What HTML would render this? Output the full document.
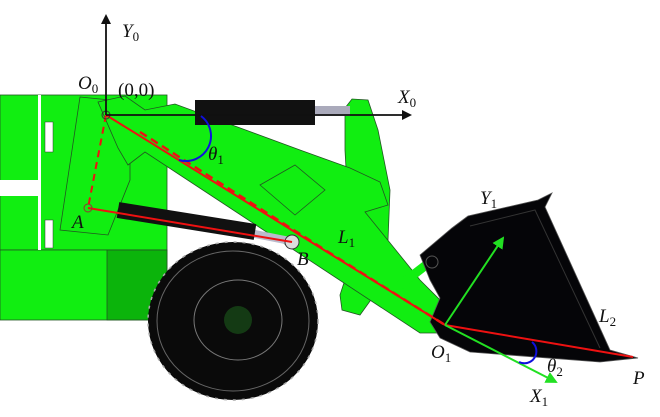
<!DOCTYPE html>
<html><head><style>
html,body{margin:0;padding:0;background:#fff;width:660px;height:417px;overflow:hidden}
svg text{font-family:"Liberation Serif","DejaVu Serif",serif;font-style:italic;font-size:19px;fill:#111}
svg text.n{font-style:normal}
svg tspan.s{font-size:13px;font-style:normal}
</style></head><body>
<svg width="660" height="417" viewBox="0 0 660 417" xmlns="http://www.w3.org/2000/svg">
<defs>
<marker id="ak" markerWidth="10" markerHeight="10" refX="8" refY="5" orient="auto" markerUnits="userSpaceOnUse"><path d="M0,0 L10,5 L0,10z" fill="#111"/></marker>
<marker id="ag" markerWidth="12" markerHeight="12" refX="10" refY="6" orient="auto" markerUnits="userSpaceOnUse"><path d="M0,0 L12,6 L0,12z" fill="#22e022"/></marker>
</defs>
<rect x="0" y="95" width="167" height="155" fill="#11ee11" stroke="#225522" stroke-width="0.8"/>
<rect x="0" y="250" width="167" height="70" fill="#11ee11" stroke="#225522" stroke-width="0.8"/>
<rect x="107" y="250" width="60" height="70" fill="#0bb40b" stroke="#225522" stroke-width="0.8"/>
<rect x="0" y="180" width="38" height="16" fill="#fff"/>
<rect x="38" y="95" width="3" height="155" fill="#fff"/>
<rect x="45" y="122" width="8" height="30" fill="#fff" stroke="#333" stroke-width="0.5"/>
<rect x="45" y="220" width="8" height="28" fill="#fff" stroke="#333" stroke-width="0.5"/>
<polygon points="80,97 110,100 130,125 130,180 108,235 60,230" fill="#11ee11" stroke="#225522" stroke-width="0.8"/>
<polygon points="345,108 352,99 368,100 378,130 390,190 388,240 378,290 360,315 342,310 340,295 353,255 348,205 345,150" fill="#11ee11" stroke="#225522" stroke-width="0.8"/>
<polygon points="98,102 125,96 145,110 175,104 300,150 350,168 380,182 388,205 365,212 420,280 440,300 450,333 420,333 145,152 128,165 118,148" fill="#11ee11" stroke="#225522" stroke-width="0.8"/>
<polygon points="260,185 295,165 325,190 295,215" fill="none" stroke="#225522" stroke-width="0.8"/>
<line x1="400" y1="285" x2="430" y2="262" stroke="#11ee11" stroke-width="9"/>
<rect x="310" y="106" width="40" height="10" fill="#aab"/>
<rect x="195" y="100" width="120" height="25" fill="#111"/>
<line x1="250" y1="233" x2="290" y2="241" stroke="#bbc" stroke-width="8"/>
<line x1="118" y1="210" x2="255" y2="232" stroke="#111" stroke-width="16"/>
<circle cx="292" cy="242" r="7" fill="#ddd" stroke="#333"/>
<ellipse cx="233" cy="321" rx="85" ry="79" fill="#0a0a0a" stroke="#aaa" stroke-width="1.5" stroke-dasharray="3 6"/>
<ellipse cx="233" cy="321" rx="76" ry="70" fill="none" stroke="#666" stroke-width="1"/>
<ellipse cx="238" cy="320" rx="44" ry="40" fill="none" stroke="#777" stroke-width="1"/>
<ellipse cx="238" cy="320" rx="14" ry="14" fill="#143a14"/>
<polygon points="420,255 452,228 468,216 538,200 552,193 545,207 610,350 638,358 600,362 470,352 440,338 430,322 440,298 430,280" fill="#050508" stroke="#555" stroke-width="0.8"/>
<path d="M470,226 L535,210 L600,348" fill="none" stroke="#333" stroke-width="1"/>
<circle cx="432" cy="262" r="6" fill="none" stroke="#555"/>
<line x1="106" y1="115" x2="445" y2="325" stroke="#ee1111" stroke-width="2"/>
<polyline points="106,115 88,208" fill="none" stroke="#ee1111" stroke-width="2" stroke-dasharray="7 5"/>
<polyline points="140,132 325,250 445,325" fill="none" stroke="#ee1111" stroke-width="2.5" stroke-dasharray="8 5"/>
<line x1="88" y1="208" x2="292" y2="242" stroke="#ee1111" stroke-width="2"/>
<line x1="445" y1="325" x2="633" y2="357" stroke="#ee1111" stroke-width="2"/>
<circle cx="88" cy="208" r="4" fill="none" stroke="#933"/>
<circle cx="106" cy="115" r="4" fill="none" stroke="#333"/>
<line x1="106" y1="115" x2="106" y2="16" stroke="#111" stroke-width="1.8" marker-end="url(#ak)"/>
<line x1="106" y1="115" x2="410" y2="115" stroke="#111" stroke-width="1.8" marker-end="url(#ak)"/>
<line x1="445" y1="325" x2="556" y2="382" stroke="#22e022" stroke-width="2" marker-end="url(#ag)"/>
<line x1="445" y1="325" x2="503" y2="238" stroke="#22e022" stroke-width="2" marker-end="url(#ag)"/>
<path d="M201,116 A25,25 0 0 1 179,160" fill="none" stroke="#1010dd" stroke-width="2"/>
<path d="M532,342 A12,12 0 0 1 519,362" fill="none" stroke="#1010dd" stroke-width="2"/>
<text x="122" y="37">Y<tspan class="s" dy="4">0</tspan></text>
<text x="78" y="89">O<tspan class="s" dy="4">0</tspan></text>
<text x="118" y="96" class="n">(0,0)</text>
<text x="398" y="103">X<tspan class="s" dy="4">0</tspan></text>
<text x="208" y="160">θ<tspan class="s" dy="4">1</tspan></text>
<text x="72" y="228">A</text>
<text x="297" y="265">B</text>
<text x="338" y="243">L<tspan class="s" dy="4">1</tspan></text>
<text x="480" y="204">Y<tspan class="s" dy="4">1</tspan></text>
<text x="599" y="322">L<tspan class="s" dy="4">2</tspan></text>
<text x="431" y="358">O<tspan class="s" dy="4">1</tspan></text>
<text x="547" y="372">θ<tspan class="s" dy="4">2</tspan></text>
<text x="633" y="384">P</text>
<text x="530" y="402">X<tspan class="s" dy="4">1</tspan></text>
</svg>
</body></html>
